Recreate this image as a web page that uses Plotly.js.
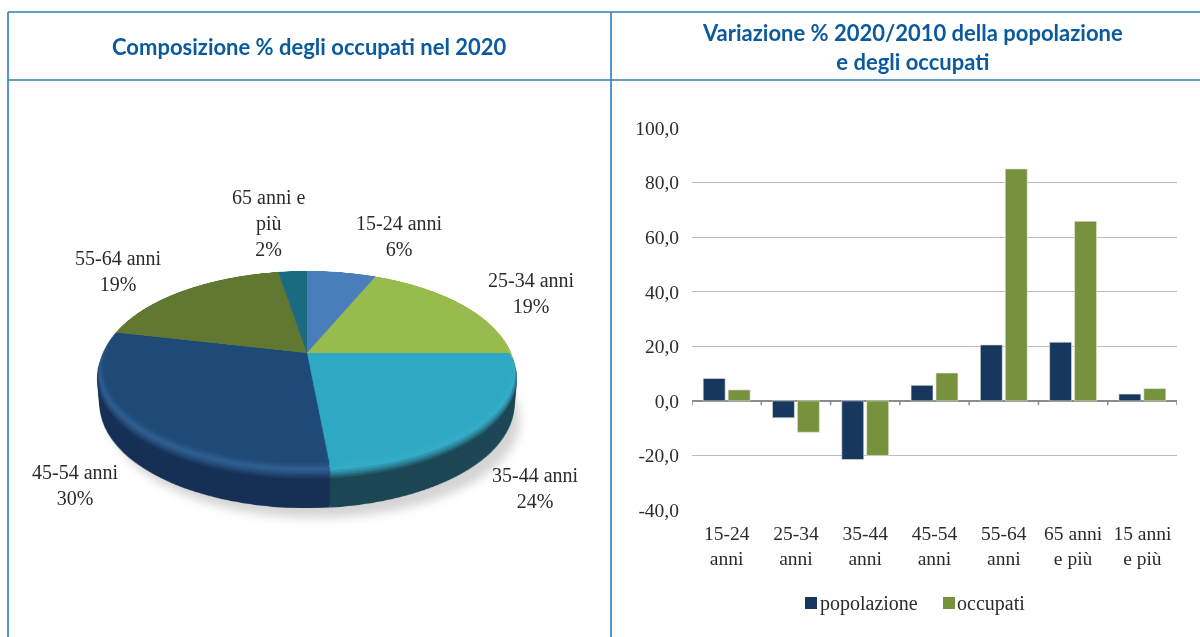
<!DOCTYPE html>
<html><head><meta charset="utf-8">
<script src="https://cdn.plot.ly/plotly-3.0.1.min.js"></script>
<style>
html,body{margin:0;padding:0;background:#fff;width:1200px;height:637px;overflow:hidden}
#shadow{position:absolute;left:112px;top:322px;width:408px;height:196px;border-radius:50%;background:#8a8a8a;opacity:.36;filter:blur(5px)}
#pie{position:absolute;left:99px;top:145px;width:416px;height:416px;transform-style:preserve-3d;transform:perspective(1213px) rotateX(62.2deg)}
#pie>div{position:absolute}
#main{position:absolute;left:0;top:0;width:1200px;height:637px}
</style></head><body>
<div id="shadow"></div>
<div id="pie"></div>
<div id="main"></div>
<script>
// --- data ---
const pieCategories = ['15-24 anni','25-34 anni','35-44 anni','45-54 anni','55-64 anni','65 anni e più'];
const pieValues = [6.3,18.7,23.5,30.1,18.8,2.6];
const pieLabels = ['6%','19%','24%','30%','19%','2%'];
const barCategories = ['15-24<br>anni','25-34<br>anni','35-44<br>anni','45-54<br>anni','55-64<br>anni','65 anni<br>e più','15 anni<br>e più'];
const popolazione = [8.2,-6.2,-21.5,5.7,20.5,21.5,2.5];
const occupati = [4.0,-11.5,-20.0,10.2,85.0,65.8,4.5];
const yTicks = [-40,-20,0,20,40,60,80,100];
const yTickLabels = ['-40,0','-20,0','0,0','20,0','40,0','60,0','80,0','100,0'];
const title1 = 'Composizione % degli occupati nel 2020';
const title2 = 'Variazione % 2020/2010 della popolazione<br>e degli occupati';
// --- colours ---
const faceColors = ['#4a7ebb','#98bb4e','#2fa8c5','#1f4a78','#607832','#1a6a82'];
const sideColors = ['#2c4c72','#5c7230','#1c4654','#152f55','#3a4a1e','#103f50'];
const hiColors   = ['#5f8fc6','#a5c460','#35abc6','#2f5f92','#6c843a','#247690'];
const navy='#17375e', olive='#76923c', frame='#2f7cb8', titleCol='#0b5a9e', ink='#2b2b2b';
const serif='"Liberation Serif",serif';

function hex(c){return [1,3,5].map(i=>parseInt(c.substr(i,2),16));}
function mix(a,b,t){const A=hex(a),B=hex(b);return 'rgb('+A.map((v,i)=>Math.round(v+(B[i]-v)*t)).join(',')+')';}

// --- extruded pie: a stack of real pie traces in a CSS 3D scene ---
const R=208, stage=document.getElementById('pie');
function layer(z,r,colors){
  const d=document.createElement('div');
  d.style.left=(R-r)+'px'; d.style.top=(R-r)+'px';
  d.style.width=(2*r)+'px'; d.style.height=(2*r)+'px';
  d.style.transform='translateZ('+(-z)+'px)';
  stage.appendChild(d);
  Plotly.newPlot(d,[{type:'pie',labels:pieCategories,values:pieValues,sort:false,direction:'clockwise',rotation:0,
    textinfo:'none',hoverinfo:'none',showlegend:false,marker:{colors:colors,line:{width:0}}}],
    {width:2*r,height:2*r,margin:{l:0,r:0,t:0,b:0,pad:0},paper_bgcolor:'rgba(0,0,0,0)',showlegend:false},
    {staticPlot:true,displayModeBar:false});
}
const bevelDepth=13, bevelIn=6, depth=42;
for(let z=depth;z>bevelDepth;z-=1.5){layer(z,R,sideColors);}
const steps=12;
for(let i=steps;i>=1;i--){
  const t=i/steps, z=bevelDepth*t, r=R-bevelIn*(1-t)*(1-t);
  const cols=faceColors.map((f,k)=> t<0.35 ? mix(f,hiColors[k],t/0.35) : mix(hiColors[k],sideColors[k],(t-0.35)/0.65));
  layer(z,r,cols);
}
layer(0,R-bevelIn,faceColors);

// --- main figure: frame, titles, bars, labels ---
const L=692,Rt=1177,T=128,B=510;
const px=x=>(x-L)/(Rt-L), py=y=>1-(y-T)/(B-T);
function note(x,y,text,opt){return Object.assign({xref:'paper',yref:'paper',x:px(x),y:py(y),text:text,showarrow:false,xanchor:'center',yanchor:'middle',
  font:{family:serif,size:20,color:ink},align:'center'},opt||{});}
const titleFont={family:'Lato,sans-serif',size:22,color:titleCol,weight:700};
const annotations=[
  note(309,47,'<b>'+title1+'</b>',{font:titleFont}),
  note(912,47,'<b>'+title2.replace('<br>','</b><br><b>')+'</b>',{font:titleFont}),
  note(399,236,pieCategories[0]+'<br>'+pieLabels[0]),
  note(531,293,pieCategories[1]+'<br>'+pieLabels[1]),
  note(535,488,pieCategories[2]+'<br>'+pieLabels[2]),
  note(75,485,pieCategories[3]+'<br>'+pieLabels[3]),
  note(118,271,pieCategories[4]+'<br>'+pieLabels[4]),
  note(268,223,'65 anni e<br>più<br>'+pieLabels[5]),
  note(818,603,'popolazione',{xanchor:'left'}),
  note(955,603,'occupati',{xanchor:'left'})
];
function rectLine(x0,y0,x1,y1){return {type:'line',xref:'paper',yref:'paper',x0:px(x0),y0:py(y0),x1:px(x1),y1:py(y1),line:{color:frame,width:1.6},layer:'above'};}
const shapes=[
  rectLine(8,12,1200,12), rectLine(8,80,1200,80), rectLine(8,12,8,637), rectLine(611,12,611,637),
  {type:'rect',xref:'paper',yref:'paper',x0:px(805),x1:px(817),y0:py(597),y1:py(609),fillcolor:navy,line:{width:0}},
  {type:'rect',xref:'paper',yref:'paper',x0:px(943),x1:px(955),y0:py(597),y1:py(609),fillcolor:olive,line:{width:0}}
];
for(let i=0;i<=barCategories.length;i++){
  shapes.push({type:'line',xref:'x',yref:'y',x0:i-0.5,x1:i-0.5,y0:0,y1:-1.6,line:{color:'#8c8c8c',width:1.5},layer:'above'});
}
const edge={color:'rgba(225,230,225,0.9)',width:0.7};
Plotly.newPlot('main',[
  {type:'bar',name:'popolazione',x:barCategories,y:popolazione,marker:{color:navy,line:edge},hoverinfo:'none'},
  {type:'bar',name:'occupati',x:barCategories,y:occupati,marker:{color:olive,line:edge},hoverinfo:'none'}
],{
  width:1200,height:637,margin:{l:L,r:1200-Rt,t:T,b:637-B,pad:0},
  paper_bgcolor:'rgba(0,0,0,0)',plot_bgcolor:'rgba(0,0,0,0)',
  separators:',.',showlegend:false,barmode:'group',bargap:0.28,bargroupgap:0.12,
  xaxis:{type:'category',range:[-0.5,6.5],showgrid:false,zeroline:false,showline:false,ticks:'',ticklabelstandoff:9,
    tickfont:{family:serif,size:19.5,color:ink},tickangle:0},
  yaxis:{range:[-40,100],tickmode:'array',tickvals:yTicks,ticktext:yTickLabels,showgrid:true,gridcolor:'#bdbdbd',gridwidth:1,
    zeroline:true,zerolinecolor:'#8c8c8c',zerolinewidth:2.4,showline:false,ticks:'',ticklen:0,ticklabelstandoff:12,
    tickfont:{family:serif,size:19.5,color:ink}},
  annotations:annotations,shapes:shapes
},{staticPlot:true,displayModeBar:false});
</script>
</body></html>
